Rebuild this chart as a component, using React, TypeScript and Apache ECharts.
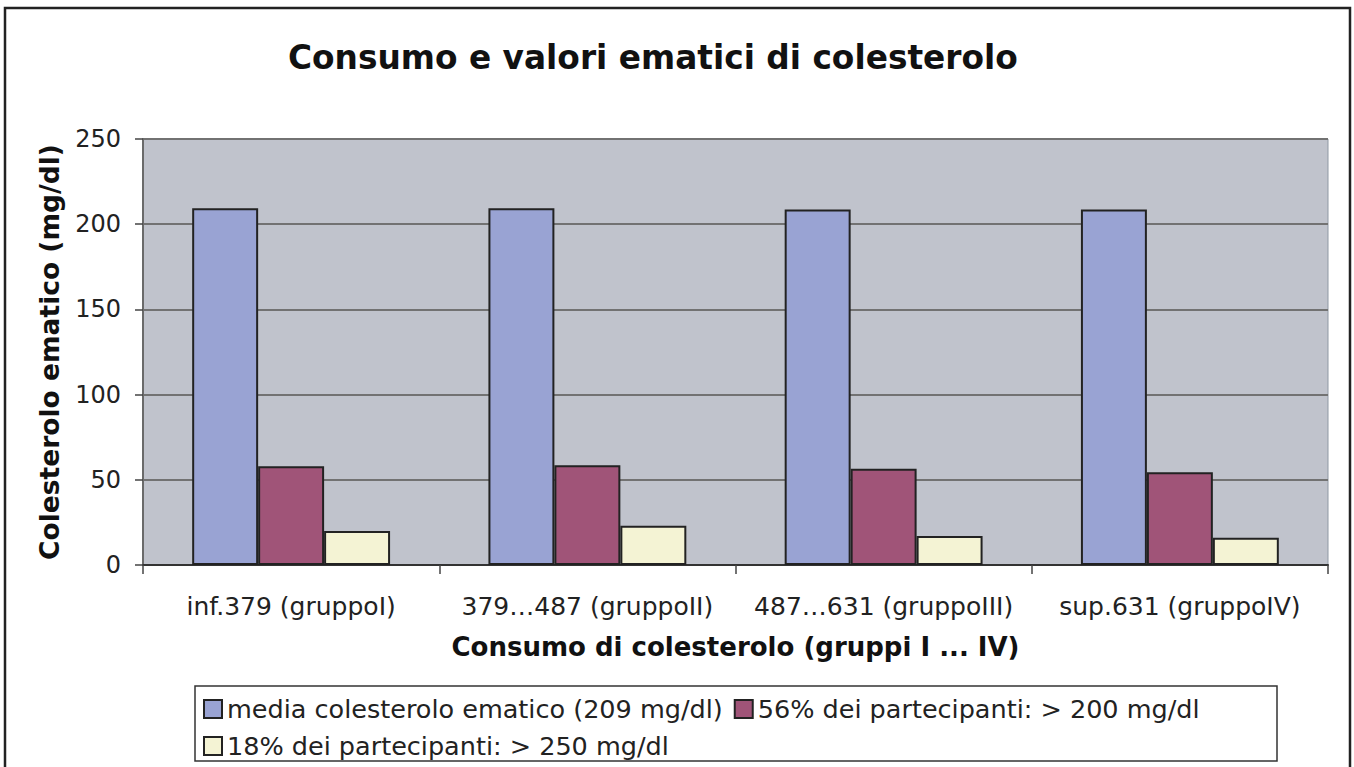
import React, { useEffect, useRef } from "react";
import * as echarts from "echarts";

const categories = [
  "inf.379 (gruppoI)",
  "379…487 (gruppoII)",
  "487…631 (gruppoIII)",
  "sup.631 (gruppoIV)",
];
const seriesNames = [
  "media colesterolo ematico (209 mg/dl)",
  "56% dei partecipanti: > 200 mg/dl",
  "18% dei partecipanti: > 250 mg/dl",
];
const mediaValues = [209.3, 209.3, 208.6, 208.6];
const over200Values = [58, 58.5, 56.5, 54.5];
const over250Values = [20, 23, 17, 16];
const yTicks = { min: 0, max: 250, interval: 50 };

const FONT = "DejaVu Sans, Verdana, sans-serif";
const colors = ["#99A3D3", "#A05478", "#F4F3D4"];

export default function App() {
  const ref = useRef<HTMLDivElement>(null);
  useEffect(() => {
    if (!ref.current) return;
    const chart = echarts.init(ref.current, undefined, { renderer: "svg" });
    const values = [mediaValues, over200Values, over250Values];
    chart.setOption({
      animation: false,
      backgroundColor: "#ffffff",
      textStyle: { fontFamily: FONT },
      title: {
        text: "Consumo e valori ematici di colesterolo",
        left: 288,
        top: 41,
        padding: 0,
        textStyle: { fontFamily: FONT, fontSize: 32.8, fontWeight: "bold", color: "#111" },
      },
      graphic: [
        {
          type: "rect",
          shape: { x: 5, y: 8, width: 1345, height: 780 },
          style: { fill: "none", stroke: "#222", lineWidth: 2.5 },
          silent: true,
        },
        {
          type: "rect",
          shape: { x: 195, y: 686, width: 1082, height: 75 },
          style: { fill: "none", stroke: "#333", lineWidth: 1.5 },
          silent: true,
        },
      ],
      legend: {
        left: 203,
        top: 696,
        width: 1070,
        padding: 0,
        itemWidth: 18,
        itemHeight: 18,
        itemGap: 11,
        icon: "rect",
        formatter: (name: string) => `{t|${name}}`,
        textStyle: {
          fontFamily: FONT,
          fontSize: 25.5,
          color: "#222",
          rich: {
            t: {
              fontFamily: FONT,
              fontSize: 25.5,
              color: "#222",
              padding: [0, 9, 0, 0],
            },
          },
        },
        data: seriesNames,
      },
      grid: {
        left: 143,
        top: 139,
        width: 1185,
        height: 426,
        show: true,
        backgroundColor: "#C0C3CC",
        borderColor: "#8F98A4",
        borderWidth: 1,
      },
      xAxis: {
        type: "category",
        data: categories,
        name: "Consumo di colesterolo (gruppi I ... IV)",
        nameLocation: "middle",
        nameGap: 69,
        nameTextStyle: { fontFamily: FONT, fontSize: 26, fontWeight: "bold", color: "#111" },
        axisLine: { show: true, lineStyle: { color: "#333", width: 2 } },
        axisTick: { show: true, length: 9, lineStyle: { color: "#444", width: 1.5 } },
        axisLabel: { fontFamily: FONT, fontSize: 25, color: "#222", margin: 29, interval: 0 },
        splitLine: { show: false },
      },
      yAxis: {
        type: "value",
        min: yTicks.min,
        max: yTicks.max,
        interval: yTicks.interval,
        name: "Colesterolo ematico (mg/dl)",
        nameLocation: "middle",
        nameRotate: 90,
        nameGap: 80,
        nameTextStyle: { fontFamily: FONT, fontSize: 26.5, fontWeight: "bold", color: "#111" },
        axisLine: { show: true, lineStyle: { color: "#6A6A6A", width: 2 } },
        axisTick: { show: true, length: 8, lineStyle: { color: "#444", width: 1.5 } },
        axisLabel: { fontFamily: FONT, fontSize: 24, color: "#222", margin: 22 },
        splitLine: { show: true, lineStyle: { color: "#727272", width: 2 } },
      },
      series: seriesNames.map((name, i) => ({
        name,
        type: "bar",
        data: values[i],
        barGap: "0%",
        barCategoryGap: "33.2%",
        itemStyle: { color: colors[i], borderColor: "#222", borderWidth: 2 },
      })),
    });
    return () => chart.dispose();
  }, []);
  return (
    <div
      ref={ref}
      style={{ position: "fixed", left: 0, top: 0, width: 1354, height: 767 }}
    />
  );
}
